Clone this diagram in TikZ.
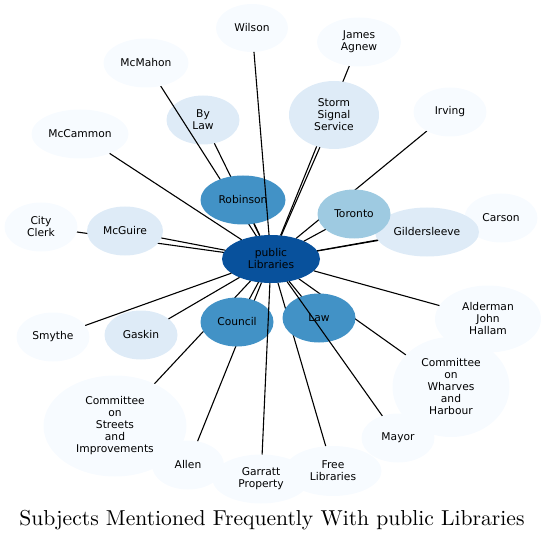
\documentclass[tikz,border=0pt]{standalone}
\usepackage{fontspec}
\usepackage{tikz}
\usetikzlibrary{shapes.geometric}
\newfontfamily\labelfont{DejaVu Sans}
\newfontfamily\titlefont{lmroman10-regular.otf}
\definecolor{blueA}{HTML}{08519C}
\definecolor{blueB}{HTML}{4292C6}
\definecolor{blueC}{HTML}{9ECAE1}
\definecolor{blueD}{HTML}{DEEBF7}
\definecolor{blueE}{HTML}{F7FBFF}
\pgfdeclarelayer{bottom}
\pgfdeclarelayer{back}
\pgfdeclarelayer{front}
\pgfsetlayers{bottom,back,main,front}
\tikzset{
  topic/.style={ellipse, inner sep=0pt, outer sep=0pt, align=center,
    minimum width=73pt, minimum height=49pt, text=black,
    font=\labelfont\fontsize{10.7}{12}\selectfont},
  link/.style={line width=1.1pt, black},
}

\begin{document}
\begin{tikzpicture}[x=1pt, y=-1pt]
            \useasboundingbox (0,0) rectangle (546,540);
            % Centre node
            \node[topic, fill=blueA, minimum width=98pt, minimum height=48pt] (hub) at (271,259) {public\\Libraries};
            % Upper ring
            \node[topic, fill=blueE, minimum width=72pt, minimum height=48pt] (wilson) at (252,28) {Wilson};
            \node[topic, fill=blueE, minimum width=84pt] (agnew) at (359,42) {James\\Agnew};
            \node[topic, fill=blueE, minimum width=85pt] (mcmahon) at (146,63) {McMahon};
            \begin{pgfonlayer}{bottom}
              \node[topic, fill=blueD] (bylaw) at (203,120) {By\\Law};
            \end{pgfonlayer}
            \node[topic, fill=blueD, minimum width=90pt, minimum height=68pt] (storm) at (334,115) {Storm\\Signal\\Service};
            \node[topic, fill=blueE] (irving) at (450,112) {Irving};
            \node[topic, fill=blueE, minimum width=97pt] (mccammon) at (80,134) {McCammon};
            \node[topic, fill=blueB, minimum width=85pt] (robinson) at (243,200) {Robinson};
            \node[topic, fill=blueE] (carson) at (501,218) {Carson};
            \node[topic, fill=blueD, minimum width=104pt] (gilder) at (427,232) {Gildersleeve};
            \node[topic, fill=blueC] (toronto) at (354,214) {Toronto};
            \node[topic, fill=blueE] (clerk) at (41,227) {City\\Clerk};
            \node[topic, fill=blueD, minimum width=76pt] (mcguire) at (125,231) {McGuire};
            % Lower ring
            \node[topic, fill=blueE] (smythe) at (53,337) {Smythe};
            \node[topic, fill=blueD] (gaskin) at (141,335) {Gaskin};
            \node[topic, fill=blueB] (council) at (237,322) {Council};
            \node[topic, fill=blueB] (law) at (319,318) {Law};
            \node[topic, fill=blueE, minimum width=106pt, minimum height=67pt] (hallam) at (488,319) {Alderman\\John\\Hallam};
            \node[topic, fill=blueE, minimum width=117pt, minimum height=100pt] (wharves) at (451,387) {Committee\\on\\Wharves\\and\\Harbour};
            \node[topic, fill=blueE, minimum width=143pt, minimum height=101pt] (streets) at (115,426) {Committee\\on\\Streets\\and\\Improvements};
            \node[topic, fill=blueE, minimum width=72pt] (allen) at (188,465) {Allen};
            \node[topic, fill=blueE, minimum width=97pt, minimum height=50pt] (freelib) at (333,471) {Free\\Libraries};
            \node[topic, fill=blueE, minimum width=97pt] (garratt) at (261,479) {Garratt\\Property};
            \node[topic, fill=blueE] (mayor) at (398,438) {Mayor};
            % Links hidden behind the nearer nodes
            \begin{pgfonlayer}{back}
              \draw[link] (hub) -- (mcmahon);
              \draw[link] (hub) -- (bylaw);
              \draw[link] (hub) -- (agnew);
              \draw[link] (hub) -- (irving);
              \draw[link] (hub) -- (carson);
              \draw[link] (hub) -- (clerk);
              \draw[link] (hub) -- (streets);
              \draw[link] (hub) -- (allen);
              \draw[link] (hub) -- (wharves);
              \draw[link] (hub) -- (freelib);
            \end{pgfonlayer}
            % Links on top
            \begin{pgfonlayer}{front}
              \draw[link] (hub) -- (wilson);
              \draw[link] (hub) -- (robinson);
              \draw[link] (hub) -- (storm);
              \draw[link] (hub) -- (mccammon);
              \draw[link] (hub) -- (toronto);
              \draw[link] (hub) -- (gilder);
              \draw[link] (hub) -- (mcguire);
              \draw[link] (hub) -- (smythe);
              \draw[link] (hub) -- (gaskin);
              \draw[link] (hub) -- (council);
              \draw[link] (hub) -- (law);
              \draw[link] (hub) -- (hallam);
              \draw[link] (hub) -- (mayor);
              \draw[link] (hub) -- (garratt);
            \end{pgfonlayer}
            % Title
            \node[anchor=base, font=\titlefont\fontsize{21.6}{26}\selectfont] (title) at (272,525) {Subjects Mentioned Frequently With public Libraries};
          \end{tikzpicture}
\end{document}
